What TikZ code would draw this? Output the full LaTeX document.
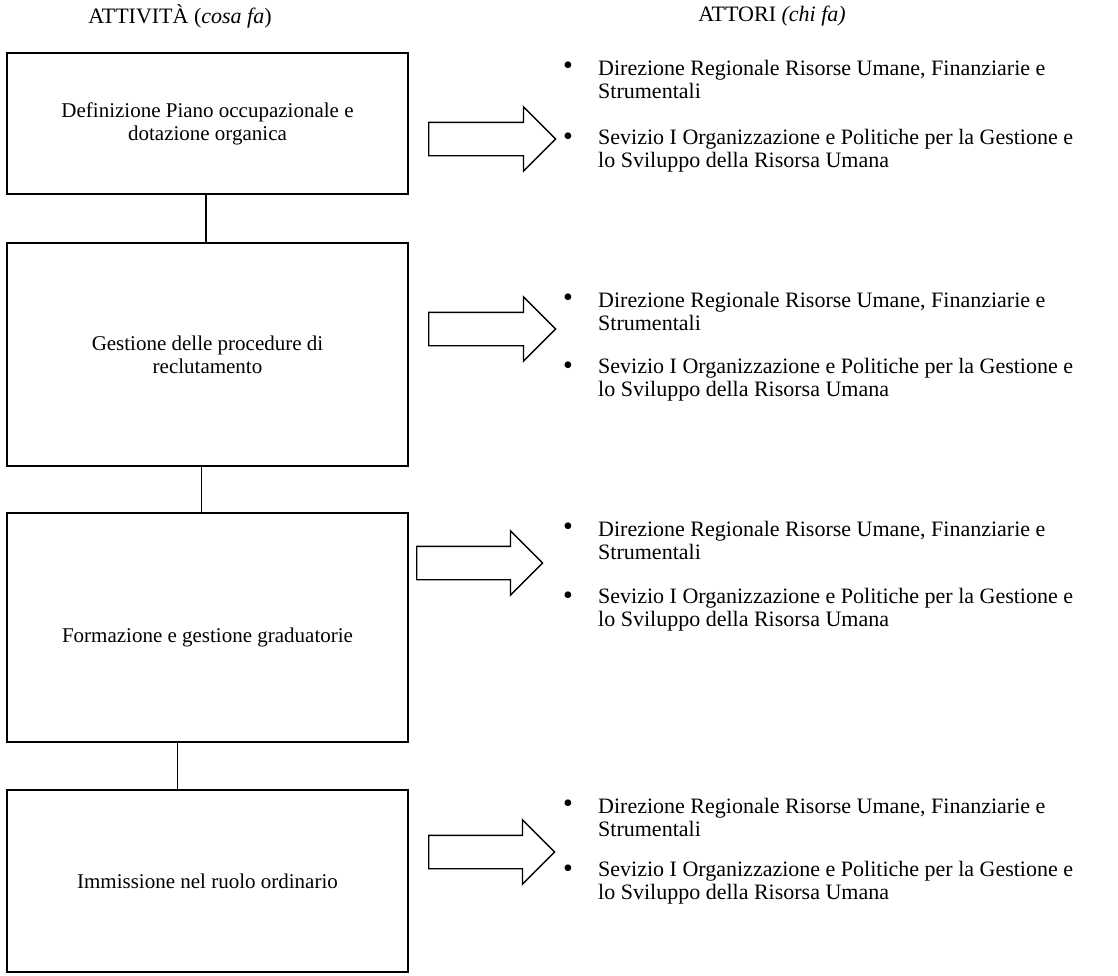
\documentclass[tikz,border=0pt]{standalone}
\usepackage{fontspec}
\setmainfont{Liberation Serif}
\usetikzlibrary{shapes.arrows}
\begin{document}
\begin{tikzpicture}[x=1pt,y=-1pt,
  box/.style={draw, line width=1.4pt, minimum width=401pt, align=center, font=\fontsize{21}{23}\selectfont, inner sep=0pt},
  conn/.style={line width=1.4pt},
  bigarrow/.style={single arrow, draw, line width=1.4pt, single arrow head extend=15.5pt, minimum width=63pt, inner xsep=0pt, inner ysep=16pt, single arrow tip angle=90, anchor=tail},
  bul/.style={font=\fontsize{28}{28}\selectfont, inner sep=0pt},
  itemtext/.style={font=\fontsize{22}{23}\selectfont, align=left, anchor=west, inner sep=0pt},
  title/.style={font=\fontsize{22}{26}\selectfont, inner sep=0pt}
]
\useasboundingbox (0,0) rectangle (1118,975);

% titles
\node[title] (t1) at (180,16) {ATTIVITÀ (\textit{cosa fa})};
\node[title] (t2) at (772,16) {ATTORI \textit{(chi fa)}};

% activity boxes
\node[box, minimum height=141pt] (b1) at (207.5,123.5) {Definizione Piano occupazionale e\\dotazione organica};
\node[box, minimum height=223pt] (b2) at (207.5,354.5) {Gestione delle procedure di\\reclutamento};
\node[box, minimum height=229pt] (b3) at (207.5,627.5) {\raisebox{-10pt}[\height][\depth]{Formazione e gestione graduatorie}};
\node[box, minimum height=182pt] (b4) at (207.5,881) {Immissione nel ruolo ordinario};

% connectors
\draw[conn] ([xshift=-1.5pt]b1.south) -- ([xshift=-1.5pt]b2.north);
\draw[conn] ([xshift=-6pt]b2.south) -- ([xshift=-6pt]b3.north);
\draw[conn] ([xshift=-30pt]b3.south) -- ([xshift=-30pt]b4.north);

% block arrows
\node[bigarrow, minimum height=127pt] (a1) at (428,139) {};
\node[bigarrow, minimum height=127pt] (a2) at (428,329) {};
\node[bigarrow, minimum height=126pt] (a3) at (416,563) {};
\node[bigarrow, minimum height=126pt] (a4) at (428,852) {};

% actors
\foreach \n/\ya/\yb in {1/68/139, 2/300/368, 3/529/598, 4/806/871}{
  \node[bul] (d\n) at (568,\ya) {•};
  \node[itemtext] (dt\n) at (598,\ya+11.5) {Direzione Regionale Risorse Umane, Finanziarie e\\Strumentali};
  \node[bul] (s\n) at (568,\yb) {•};
  \node[itemtext] (st\n) at (598,\yb+11.5) {Sevizio I Organizzazione e Politiche per la Gestione e\\lo Sviluppo della Risorsa Umana};
}
\end{tikzpicture}
\end{document}
